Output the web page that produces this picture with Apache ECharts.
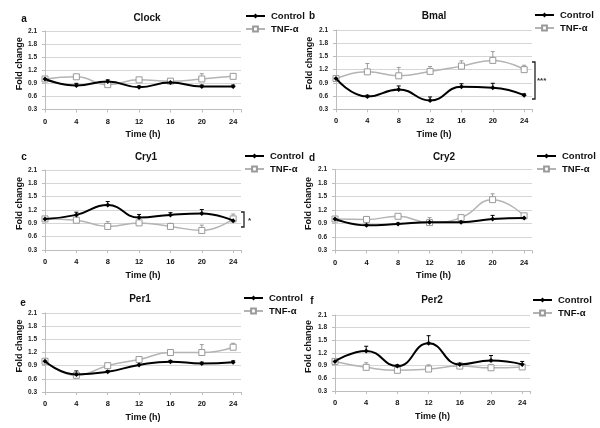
<!DOCTYPE html>
<html><head><meta charset="utf-8">
<script src="https://cdn.jsdelivr.net/npm/echarts@6/dist/echarts.min.js"></script>
<style>html,body{margin:0;padding:0;background:#fff}#c{width:600px;height:428px}</style>
</head><body><div id="c"></div>
<script>
// ---- data ----
const times = [0, 4, 8, 12, 16, 20, 24];
const xTickLabels = ['0', '4', '8', '12', '16', '20', '24'];
const yTickLabels = ['0.3', '0.6', '0.9', '1.2', '1.5', '1.8', '2.1'];
const panelTitles = ['Clock', 'Bmal', 'Cry1', 'Cry2', 'Per1', 'Per2'];
const panelLetters = ['a', 'b', 'c', 'd', 'e', 'f'];
const seriesNames = ['Control', 'TNF-α'];

const clockControl    = [1.00, 0.85, 0.94, 0.81, 0.92, 0.83, 0.83];
const clockControlErr = [0, 0.05, 0.04, 0.03, 0.03, 0.03, 0.03];
const clockTNF        = [1.00, 1.05, 0.87, 0.98, 0.95, 1.00, 1.06];
const clockTNFErr     = [0, 0.03, 0.03, 0.04, 0.03, 0.12, 0.06];

const bmalControl    = [1.00, 0.59, 0.75, 0.50, 0.81, 0.79, 0.62];
const bmalControlErr = [0, 0.03, 0.08, 0.08, 0.07, 0.10, 0.03];
const bmalTNF        = [1.00, 1.15, 1.06, 1.16, 1.28, 1.41, 1.20];
const bmalTNFErr     = [0, 0.19, 0.19, 0.11, 0.12, 0.20, 0.10];

const cry1Control    = [1.00, 1.09, 1.31, 1.03, 1.09, 1.12, 0.96];
const cry1ControlErr = [0, 0.06, 0.08, 0.07, 0.05, 0.09, 0.03];
const cry1TNF        = [1.00, 0.97, 0.83, 0.91, 0.83, 0.74, 1.00];
const cry1TNFErr     = [0, 0.03, 0.11, 0.03, 0.07, 0.12, 0.11];

const cry2Control    = [1.00, 0.86, 0.89, 0.93, 0.93, 1.00, 1.02];
const cry2ControlErr = [0, 0.02, 0.02, 0.03, 0.02, 0.08, 0.03];
const cry2TNF        = [1.00, 0.99, 1.06, 0.92, 1.03, 1.43, 1.07];
const cry2TNFErr     = [0, 0.04, 0.03, 0.11, 0.03, 0.13, 0.03];

const per1Control    = [1.00, 0.70, 0.76, 0.915, 0.99, 0.95, 0.98];
const per1ControlErr = [0, 0.08, 0.03, 0.05, 0.03, 0.03, 0.03];
const per1TNF        = [1.00, 0.68, 0.90, 1.04, 1.20, 1.20, 1.32];
const per1TNFErr     = [0, 0.06, 0.05, 0.05, 0.06, 0.18, 0.09];

const per2Control    = [1.00, 1.25, 0.89, 1.43, 0.93, 1.02, 0.93];
const per2ControlErr = [0, 0.11, 0.03, 0.18, 0.03, 0.12, 0.07];
const per2TNF        = [1.00, 0.86, 0.79, 0.82, 0.89, 0.85, 0.87];
const per2TNFErr     = [0, 0.11, 0.03, 0.10, 0.03, 0.08, 0.03];

const panelData = [
  [clockControl, clockControlErr, clockTNF, clockTNFErr],
  [bmalControl, bmalControlErr, bmalTNF, bmalTNFErr],
  [cry1Control, cry1ControlErr, cry1TNF, cry1TNFErr],
  [cry2Control, cry2ControlErr, cry2TNF, cry2TNFErr],
  [per1Control, per1ControlErr, per1TNF, per1TNFErr],
  [per2Control, per2ControlErr, per2TNF, per2TNFErr]
];

// ---- layout ----
const FONT = '"Liberation Sans", Arial, Helvetica, sans-serif';
const gridsPos = [
  {left: 45, top: 31, width: 196, height: 78.5},
  {left: 336, top: 30, width: 196, height: 79.3},
  {left: 45, top: 170, width: 196, height: 80},
  {left: 335, top: 169.5, width: 197, height: 81},
  {left: 45, top: 313, width: 196, height: 79},
  {left: 335, top: 315, width: 195, height: 76}
];
const titlePos = [[147, 18], [434, 16], [146, 157], [444, 157], [140, 299], [432, 300]];
const letterPos = [[24, 19], [312, 16], [24, 157], [312, 158], [23, 303], [312, 301]];
const legendPos = [[245, 11], [534, 10], [244, 151], [536, 151], [243, 293], [532, 295]];

const CTRL = '#000000', TNFLINE = '#b4b4b4', TNFMARK = '#9a9a9a';

const grid = [], xAxis = [], yAxis = [], series = [], legend = [], graphic = [];

function errRender(color) {
  return function (params, api) {
    const x = api.value(0), y = api.value(1), e = api.value(2);
    if (!e) return null;
    const p0 = api.coord([x, y]), p1 = api.coord([x, y + e]);
    return {type: 'group', children: [
      {type: 'line', shape: {x1: p0[0], y1: p0[1], x2: p1[0], y2: p1[1]}, style: {stroke: color, lineWidth: 1}},
      {type: 'line', shape: {x1: p1[0] - 2, y1: p1[1], x2: p1[0] + 2, y2: p1[1]}, style: {stroke: color, lineWidth: 1}}
    ]};
  };
}

gridsPos.forEach((g, i) => {
  grid.push(Object.assign({containLabel: false}, g));
  xAxis.push({
    type: 'value', gridIndex: i, min: 0, max: 25, interval: 4,
    name: 'Time (h)', nameLocation: 'middle', nameGap: 21,
    nameTextStyle: {fontFamily: FONT, fontWeight: 'bold', fontSize: 9, color: '#111'},
    axisLine: {show: true, lineStyle: {color: '#bdbdbd', width: 1}},
    axisTick: {show: true, length: 3, lineStyle: {color: '#bdbdbd'}},
    splitLine: {show: false},
    axisLabel: {
      fontFamily: FONT, fontWeight: 'bold', fontSize: 7.5, color: '#111', margin: 8,
      formatter: v => (xTickLabels.indexOf(String(v)) >= 0 ? String(v) : '')
    }
  });
  yAxis.push({
    type: 'value', gridIndex: i, min: 0.3, max: 2.1, interval: 0.3,
    name: 'Fold change', nameLocation: 'middle', nameRotate: 90, nameGap: i % 2 ? 22 : 19,
    nameTextStyle: {fontFamily: FONT, fontWeight: 'bold', fontSize: 9, color: '#111', padding: [0, 0, 0, 13]},
    axisLine: {show: true, lineStyle: {color: '#bdbdbd', width: 1}},
    axisTick: {show: true, length: 3, lineStyle: {color: '#bdbdbd'}},
    splitLine: {show: true, lineStyle: {color: '#d6d6d6', width: 1}},
    axisLabel: {
      fontFamily: FONT, fontWeight: 'bold', fontSize: 6.5, color: '#222', margin: 8,
      formatter: v => yTickLabels[Math.round((v - 0.3) / 0.3)]
    }
  });
  const d = panelData[i];
  const ctrlPts = times.map((t, k) => [t, d[0][k]]);
  const tnfPts = times.map((t, k) => [t, d[2][k]]);
  series.push({
    type: 'custom', xAxisIndex: i, yAxisIndex: i, z: 1, silent: true,
    renderItem: errRender(TNFMARK), encode: {x: 0, y: 1},
    data: times.map((t, k) => [t, d[2][k], d[3][k]])
  });
  series.push({
    type: 'custom', xAxisIndex: i, yAxisIndex: i, z: 1, silent: true,
    renderItem: errRender(CTRL), encode: {x: 0, y: 1},
    data: times.map((t, k) => [t, d[0][k], d[1][k]])
  });
  series.push({
    name: seriesNames[1], type: 'line', xAxisIndex: i, yAxisIndex: i, z: 3,
    smooth: true, data: tnfPts, animation: false,
    symbol: 'rect', symbolSize: 6,
    lineStyle: {color: TNFLINE, width: 1.5},
    itemStyle: {color: '#ffffff', borderColor: TNFMARK, borderWidth: 1}
  });
  series.push({
    name: seriesNames[0], type: 'line', xAxisIndex: i, yAxisIndex: i, z: 4,
    smooth: true, data: ctrlPts, animation: false,
    symbol: 'diamond', symbolSize: 5,
    lineStyle: {color: CTRL, width: 2},
    itemStyle: {color: CTRL, borderWidth: 0}
  });
  legend.push({
    left: legendPos[i][0], top: legendPos[i][1], orient: 'vertical', padding: 0,
    itemWidth: 19, itemHeight: 6, itemGap: 3, selectedMode: false,
    data: seriesNames,
    textStyle: {fontFamily: FONT, fontWeight: 'bold', fontSize: 9.5, color: '#111', padding: [0, 0, 0, 1]}
  });
  graphic.push({
    type: 'text', x: titlePos[i][0], y: titlePos[i][1],
    style: {text: panelTitles[i], font: 'bold 10px ' + FONT, fill: '#111', align: 'center', verticalAlign: 'middle'}
  });
  graphic.push({
    type: 'text', x: letterPos[i][0], y: letterPos[i][1],
    style: {text: panelLetters[i], font: 'bold 10px ' + FONT, fill: '#111', align: 'center', verticalAlign: 'middle'}
  });
});

// significance brackets
function bracket(x, y1, y2, label, lx, ly) {
  graphic.push({type: 'polyline', shape: {points: [[x - 3, y1], [x, y1], [x, y2], [x - 3, y2]]},
    style: {stroke: '#222', lineWidth: 1.3, fill: null}});
  graphic.push({type: 'text', x: lx, y: ly,
    style: {text: label, font: 'bold 8px ' + FONT, fill: '#333', align: 'left', verticalAlign: 'middle'}});
}
bracket(535, 62, 99, '***', 537, 81);
bracket(244, 212, 227, '*', 248, 221);

const chart = echarts.init(document.getElementById('c'), null, {renderer: 'canvas'});
chart.setOption({
  animation: false,
  backgroundColor: '#ffffff',
  grid, xAxis, yAxis, series, legend, graphic
});
</script>
</body></html>
